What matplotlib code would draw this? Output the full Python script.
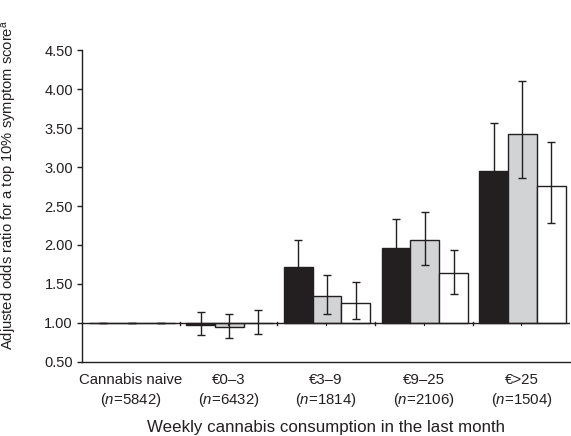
import matplotlib
matplotlib.use('Agg')
import matplotlib.pyplot as plt
import numpy as np

plt.rcParams['font.family'] = ['Liberation Sans', 'DejaVu Sans']
plt.rcParams['mathtext.fontset'] = 'custom'
plt.rcParams['mathtext.rm'] = 'Liberation Sans'
plt.rcParams['mathtext.it'] = 'Liberation Sans:italic'

groups = ['Cannabis naive', '€0–3', '€3–9', '€9–25', '€>25']
group_n = ['5842', '6432', '1814', '2106', '1504']

# odds ratios and 95% CI for the three series (black, grey, white)
or_black = [1.00, 0.97, 1.72, 1.96, 2.95]
lo_black = [1.00, 0.84, 1.45, 1.65, 2.45]
hi_black = [1.00, 1.145, 2.06, 2.33, 3.57]

or_grey = [1.00, 0.945, 1.35, 2.06, 3.43]
lo_grey = [1.00, 0.80, 1.12, 1.74, 2.86]
hi_grey = [1.00, 1.115, 1.62, 2.42, 4.10]

or_white = [1.00, 1.005, 1.26, 1.64, 2.76]
lo_white = [1.00, 0.86, 1.05, 1.37, 2.28]
hi_white = [1.00, 1.16, 1.52, 1.94, 3.32]

series = [(or_black, lo_black, hi_black, '#231f20'),
          (or_grey, lo_grey, hi_grey, '#d1d3d4'),
          (or_white, lo_white, hi_white, 'white')]

ink = '#231f20'
fig = plt.figure(figsize=(5.71, 4.36), dpi=100)
ax = fig.add_axes([0.1436, 0.170, 0.855, 0.715])

x = np.arange(len(groups))
w = 0.295
base = 1.0
for i, (vals, lo, hi, col) in enumerate(series):
    v = np.array(vals)
    xs = x + (i - 1) * w + 0.01
    ax.bar(xs, v - base, bottom=base, width=w, color=col,
           edgecolor=ink, linewidth=1.0, zorder=2)
    ax.errorbar(xs, v, yerr=[v - np.array(lo), np.array(hi) - v],
                fmt='none', ecolor=ink, elinewidth=1.0, capsize=3,
                capthick=1.0, zorder=3)

# reference line at OR = 1 with group separators
ax.axhline(base, color=ink, lw=1.0, zorder=4)
for b in np.arange(0.5, len(groups) - 0.5, 1.0):
    ax.plot([b, b], [base - 0.03, base + 0.01], color=ink, lw=1.0, zorder=4)
for c in x[1:]:
    ax.plot([c, c], [base - 0.03, base], color=ink, lw=0.8, zorder=4)

ax.set_xlim(-0.5, len(groups) - 0.5)
ax.set_ylim(0.5, 4.5)
ax.set_yticks(np.arange(0.5, 4.51, 0.5))
ax.set_yticklabels(['%.2f' % t for t in np.arange(0.5, 4.51, 0.5)])
ax.set_xticks(x)
ax.set_xticklabels(['%s\n($\\it{n}$=%s)' % (g, n) for g, n in zip(groups, group_n)],
                   linespacing=1.3)
ax.tick_params(axis='x', length=0, pad=8, labelsize=10.8, colors=ink)
ax.tick_params(axis='y', length=3.5, width=1.0, labelsize=10.5, colors=ink, pad=3)

for s in ['top', 'right']:
    ax.spines[s].set_visible(False)
for s in ['left', 'bottom']:
    ax.spines[s].set_color(ink)
    ax.spines[s].set_linewidth(1.0)

ax.set_xlabel('Weekly cannabis consumption in the last month', fontsize=12.2,
              color=ink)
ax.xaxis.set_label_coords(0.5, -0.185)
ax.set_ylabel('Adjusted odds ratio for a top 10% symptom score$^{\\rm a}$',
              fontsize=10.6, color=ink)
ax.yaxis.set_label_coords(-0.13, 0.567)

fig.savefig('out.png', dpi=100)
